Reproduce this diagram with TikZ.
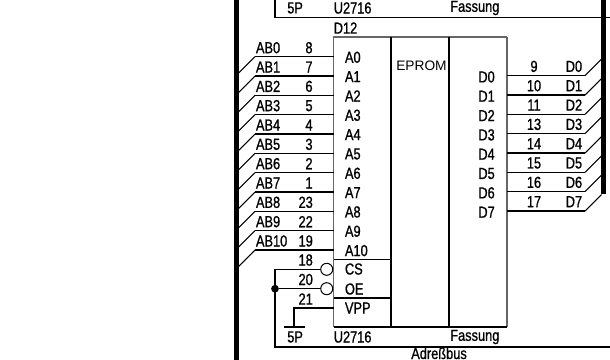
\documentclass[tikz,border=0pt]{standalone}
\usepackage{fontspec}
\setmainfont{Liberation Sans}
\newfontfamily\lab[FakeStretch=0.8,FakeBold=0.9]{Liberation Sans}
\tikzset{
  wire/.style={line width=1pt,black},
  thin wire/.style={line width=0.8pt,black},
  greyedge/.style={line width=0.8pt,black!60},
  busbar/.style={line width=4.1pt,black},
  txt/.style={inner sep=0pt,font=\lab\fontsize{12}{13}\selectfont},
  lbl/.style={txt,anchor=west},
  rlbl/.style={txt,anchor=east},
  clbl/.style={txt,anchor=center},
  bubble/.style={circle,draw=black,line width=0.75pt,fill=white,minimum size=9pt,inner sep=0pt},
  jdot/.style={circle,fill=black,minimum size=5.8pt,inner sep=0pt}
}
\begin{document}
\begin{tikzpicture}[x=0.75pt,y=-0.75pt]
\useasboundingbox (0,0) rectangle (610,360);
% buses
\coordinate (lbt) at (236.4,0); \coordinate (lbb) at (236.4,360);
\coordinate (rbt) at (603.5,0); \coordinate (rbb) at (603.5,193.5);
\draw[busbar] (lbt) -- (lbb);
\draw[busbar] (rbt) -- (rbb);
% sockets
\coordinate (stl) at (275,0); \coordinate (stb) at (275,17.5); \coordinate (str) at (610,17.5);
\draw[wire] (stl) -- (stb) -- (str);
\coordinate (sbt) at (275,269.3); \coordinate (sbb) at (275,347); \coordinate (sbr) at (610,347);
\draw[wire] (sbt) -- (sbb) -- (sbr);
\node[lbl] (t5p) at (287,8) {5P};
\node[lbl] (tu) at (333.5,8) {U2716};
\node[lbl] (tf) at (450,8) {Fassung};
\node[lbl] (d12) at (333.5,28) {D12};
\node[lbl] (b5p) at (287,337) {5P};
\node[lbl] (bu) at (333.5,337) {U2716};
\node[lbl] (bf) at (450,337) {Fassung};
\node[txt,anchor=base west] (abus) at (411,359) {Adreßbus};
% IC
\coordinate (ictl) at (333.5,37); \coordinate (ictr) at (507,37);
\coordinate (icbl) at (333.5,327); \coordinate (icbr) at (507,327);
\coordinate (m1t) at (391,37); \coordinate (m1b) at (391,327);
\coordinate (m2t) at (449,37); \coordinate (m2b) at (449,327);
\coordinate (c1l) at (333.5,259.3); \coordinate (c1r) at (391,259.3);
\coordinate (c2l) at (333.5,298); \coordinate (c2r) at (391,298);
\draw[greyedge] (icbl) -- (ictl) -- (ictr);
\draw[greyedge,line width=1pt] (ictr) -- (icbr);
\draw[wire] (icbl) -- (icbr);
\draw[wire] (m1t) -- (m1b);
\draw[wire] (m2t) -- (m2b);
\draw[wire] (c1l) -- (c1r);
\draw[wire] (c2l) -- (c2r);
\node[anchor=west,inner sep=0pt,font=\fontsize{10.3}{11}\selectfont] (ep) at (396,66) {EPROM};
% address lines
\foreach \i/\p/\a in {0/8/A0,1/7/A1,2/6/A2,3/5/A3,4/4/A4,5/3/A5,6/2/A6,7/1/A7,8/23/A8,9/22/A9,10/19/A10}{
  \pgfmathsetmacro{\yy}{56.7+19.33*\i}
  \coordinate (as\i) at (333.5,\yy);
  \coordinate (ak\i) at (255,\yy);
  \coordinate (ae\i) at (238,\yy+17);
  \draw[wire] (as\i) -- (ak\i);
  \draw[thin wire] (ak\i) -- (ae\i);
  \node[lbl] (abl\i) at (255.7,\yy-9) {AB\i};
  \node[clbl] (anum\i) at (\ifnum\i>7 305.7\else 309\fi,\yy-9) {\p};
  \node[lbl] (apin\i) at (344.7,\yy+0.6) {\a};
}
% data lines
\foreach \i/\p in {0/9,1/10,2/11,3/13,4/14,5/15,6/16,7/17}{
  \pgfmathsetmacro{\yy}{75.7+19.33*\i}
  \coordinate (ds\i) at (507,\yy);
  \coordinate (dk\i) at (585,\yy);
  \coordinate (de\i) at (601.5,\yy-16.5);
  \draw[wire] (ds\i) -- (dk\i);
  \draw[thin wire] (dk\i) -- (de\i);
  \node[lbl] (dbl\i) at (565.5,\yy-9.3) {D\i};
  \node[clbl] (dnum\i) at (534,\yy-9.3) {\p};
  \node[rlbl] (dpin\i) at (495,\yy+1.2) {D\i};
}
% control
\node[bubble] (csb) at (326.7,269.3) {};
\node[bubble] (oeb) at (326.7,288.7) {};
\node[jdot] (j) at (275,288.7) {};
\draw[wire] (sbt) -- (csb);
\draw[wire] (j) -- (oeb);
\coordinate (vp) at (333.5,308);
\coordinate (vk) at (294,308);
\coordinate (gnd) at (294,327);
\coordinate (gl) at (284,327); \coordinate (gr) at (304.5,327);
\draw[wire] (vp) -- (vk) -- (gnd);
\draw[wire] (gl) -- (gr);
\node[clbl] (n18) at (305.7,260) {18};
\node[clbl] (n20) at (305.7,279.5) {20};
\node[clbl] (n21) at (305.7,299) {21};
\node[lbl] (cs) at (344.7,269) {CS};
\node[lbl] (oe) at (344.7,289) {OE};
\node[lbl] (vpp) at (344.7,308) {VPP};
\end{tikzpicture}
\end{document}
